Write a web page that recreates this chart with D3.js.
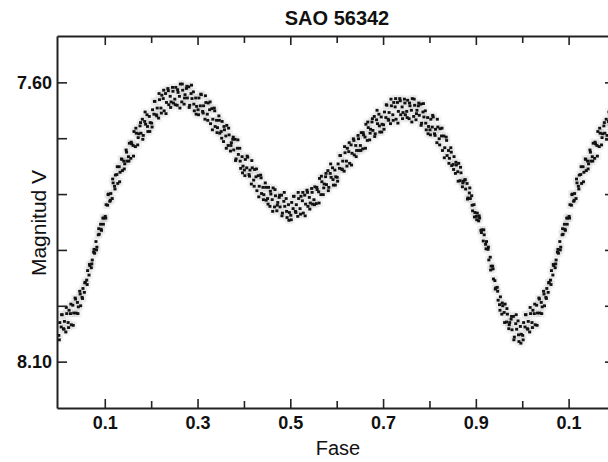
<!DOCTYPE html>
<html>
<head>
<meta charset="utf-8">
<script src="https://cdn.jsdelivr.net/npm/d3@7"></script>
<style>
  body { margin: 0; background: #fff; }
  text { font-family: "Liberation Sans", Arial, sans-serif; fill: #111; }
</style>
</head>
<body>
<svg id="chart" width="608" height="462"></svg>
<script>
var egress = [
  [.001,8.053],[.003,8.030],[.006,8.038],[.008,8.016],[.011,8.041],[.013,8.028],[.016,8.047],[.018,8.014],[.021,8.030],[.023,8.008],
  [.026,8.014],[.028,8.034],[.031,7.999],[.033,8.013],[.036,7.986],[.038,8.013],[.041,7.994],[.043,8.002],[.046,7.974],[.048,8.000],
  [.051,7.985],[.053,7.969],[.056,7.976],[.058,7.958],[.061,7.954],[.063,7.937],[.066,7.945],[.068,7.928],[.071,7.932],[.073,7.918],
  [.076,7.904],[.078,7.906],[.081,7.885],[.083,7.895],[.086,7.873],[.088,7.872],[.091,7.854],[.093,7.865],[.096,7.843],[.098,7.843],
  [.101,7.840],[.103,7.819],[.106,7.820],[.108,7.800],[.111,7.813],[.113,7.799],[.116,7.808],[.118,7.780],[.121,7.786],[.123,7.766],
  [.126,7.765],[.128,7.781],[.131,7.751],[.133,7.761],[.136,7.737],[.138,7.758],[.141,7.741],[.143,7.746],[.146,7.721],[.148,7.741],
  [.151,7.733],[.153,7.709],[.156,7.736],[.158,7.710],[.161,7.713],[.163,7.688],[.166,7.715],[.168,7.691],[.171,7.712],[.173,7.692],
  [.176,7.678],[.178,7.691],[.181,7.666],[.183,7.695],[.186,7.670],[.188,7.675],[.191,7.658],[.193,7.688],[.196,7.661],[.198,7.672]
];
var firstMax = [
  [.201,7.673],[.203,7.649],[.206,7.657],[.208,7.634],[.211,7.658],[.213,7.646],[.216,7.664],[.218,7.631],[.221,7.646],[.223,7.623],
  [.226,7.629],[.228,7.651],[.231,7.620],[.233,7.636],[.236,7.611],[.238,7.640],[.241,7.625],[.243,7.635],[.246,7.609],[.248,7.637],
  [.251,7.630],[.253,7.609],[.256,7.641],[.258,7.618],[.261,7.625],[.263,7.603],[.266,7.635],[.268,7.614],[.271,7.639],[.273,7.622],
  [.276,7.611],[.278,7.628],[.281,7.608],[.283,7.641],[.286,7.620],[.288,7.629],[.291,7.617],[.293,7.651],[.296,7.628],[.298,7.643],
  [.301,7.649],[.303,7.628],[.306,7.642],[.308,7.622],[.311,7.652],[.313,7.642],[.316,7.666],[.318,7.636],[.321,7.657],[.323,7.637],
  [.326,7.649],[.328,7.674],[.331,7.647],[.333,7.666],[.336,7.646],[.338,7.679],[.341,7.668],[.343,7.681],[.346,7.660],[.348,7.691],
  [.351,7.688],[.353,7.670],[.356,7.706],[.358,7.685],[.361,7.696],[.363,7.677],[.366,7.713],[.368,7.694],[.371,7.723],[.373,7.708],
  [.376,7.702],[.378,7.721],[.381,7.702],[.383,7.737],[.386,7.718],[.388,7.729],[.391,7.718],[.393,7.754],[.396,7.733],[.398,7.750]
];
var secondaryMin = [
  [.401,7.757],[.403,7.738],[.406,7.753],[.408,7.734],[.411,7.765],[.413,7.757],[.416,7.782],[.418,7.753],[.421,7.775],[.423,7.756],
  [.426,7.769],[.428,7.794],[.431,7.767],[.433,7.786],[.436,7.766],[.438,7.799],[.441,7.788],[.443,7.801],[.446,7.780],[.448,7.811],
  [.451,7.808],[.453,7.788],[.456,7.822],[.458,7.800],[.461,7.810],[.463,7.789],[.466,7.823],[.468,7.803],[.471,7.830],[.473,7.815],
  [.476,7.806],[.478,7.823],[.481,7.802],[.483,7.834],[.486,7.813],[.488,7.822],[.491,7.808],[.493,7.842],[.496,7.819],[.498,7.833],
  [.501,7.838],[.503,7.815],[.506,7.826],[.508,7.804],[.511,7.831],[.513,7.819],[.516,7.840],[.518,7.808],[.521,7.826],[.523,7.804],
  [.526,7.812],[.528,7.834],[.531,7.802],[.533,7.818],[.536,7.793],[.538,7.822],[.541,7.806],[.543,7.816],[.546,7.790],[.548,7.818],
  [.551,7.810],[.553,7.787],[.556,7.817],[.558,7.792],[.561,7.796],[.563,7.772],[.566,7.801],[.568,7.778],[.571,7.801],[.573,7.782],
  [.576,7.769],[.578,7.783],[.581,7.758],[.583,7.788],[.586,7.763],[.588,7.770],[.591,7.753],[.593,7.784],[.596,7.757],[.598,7.769]
];
var secondMax = [
  [.601,7.770],[.603,7.746],[.606,7.754],[.608,7.731],[.611,7.755],[.613,7.741],[.616,7.759],[.618,7.726],[.621,7.741],[.623,7.718],
  [.626,7.724],[.628,7.745],[.631,7.712],[.633,7.727],[.636,7.701],[.638,7.730],[.641,7.713],[.643,7.722],[.646,7.695],[.648,7.722],
  [.651,7.713],[.653,7.690],[.656,7.719],[.658,7.694],[.661,7.698],[.663,7.675],[.666,7.704],[.668,7.681],[.671,7.703],[.673,7.684],
  [.676,7.671],[.678,7.686],[.681,7.661],[.683,7.692],[.686,7.667],[.688,7.674],[.691,7.657],[.693,7.689],[.696,7.662],[.698,7.675],
  [.701,7.676],[.703,7.653],[.706,7.663],[.708,7.641],[.711,7.666],[.713,7.654],[.716,7.674],[.718,7.642],[.721,7.658],[.723,7.636],
  [.726,7.644],[.728,7.666],[.731,7.636],[.733,7.652],[.736,7.629],[.738,7.658],[.741,7.644],[.743,7.654],[.746,7.630],[.748,7.658],
  [.751,7.652],[.753,7.632],[.756,7.665],[.758,7.642],[.761,7.650],[.763,7.629],[.766,7.661],[.768,7.641],[.771,7.667],[.773,7.650],
  [.776,7.642],[.778,7.659],[.781,7.639],[.783,7.673],[.786,7.653],[.788,7.662],[.791,7.651],[.793,7.685],[.796,7.663],[.798,7.679]
];
var ingress = [
  [.801,7.685],[.803,7.666],[.806,7.680],[.808,7.662],[.811,7.692],[.813,7.684],[.816,7.708],[.818,7.680],[.821,7.701],[.823,7.683],
  [.826,7.696],[.828,7.722],[.831,7.696],[.833,7.717],[.836,7.698],[.838,7.731],[.841,7.722],[.843,7.736],[.846,7.717],[.848,7.749],
  [.851,7.747],[.853,7.733],[.856,7.763],[.858,7.748],[.861,7.760],[.863,7.745],[.866,7.776],[.868,7.762],[.871,7.787],[.873,7.777],
  [.876,7.775],[.878,7.791],[.881,7.781],[.883,7.807],[.886,7.798],[.888,7.808],[.891,7.803],[.893,7.830],[.896,7.819],[.898,7.833],
  [.901,7.840],[.903,7.834],[.906,7.848],[.908,7.843],[.911,7.865],[.913,7.864],[.916,7.884],[.918,7.873],[.921,7.890],[.923,7.885],
  [.926,7.899],[.928,7.918],[.931,7.913],[.933,7.929],[.936,7.929],[.938,7.952],[.941,7.955],[.943,7.968],[.946,7.967],[.948,7.990],
  [.951,7.998],[.953,7.984],[.956,8.015],[.958,8.000],[.961,8.012],[.963,7.997],[.966,8.029],[.968,8.015],[.971,8.041],[.973,8.030],
  [.976,8.024],[.978,8.043],[.981,8.019],[.983,8.056],[.986,8.032],[.988,8.042],[.991,8.027],[.993,8.064],[.996,8.037],[.998,8.051]
];
// second run of observations, same star
var secondRun = [
  [.002,8.061],[.007,8.016],[.012,8.042],[.017,8.003],[.022,8.039],
  [.027,7.997],[.032,8.035],[.037,7.988],[.042,8.014],[.047,7.979],
  [.052,7.987],[.057,7.959],[.062,7.962],[.067,7.926],[.072,7.925],
  [.077,7.899],[.082,7.900],[.087,7.862],[.092,7.863],[.097,7.854],
  [.102,7.843],[.107,7.801],[.112,7.811],[.117,7.773],[.122,7.791],
  [.127,7.751],[.132,7.778],[.137,7.738],[.142,7.755],[.147,7.725],
  [.152,7.741],[.157,7.707],[.162,7.732],[.167,7.682],[.172,7.699],
  [.177,7.672],[.182,7.702],[.187,7.653],[.192,7.679],[.197,7.688],
  [.202,7.680],[.207,7.634],[.212,7.660],[.217,7.620],[.222,7.655],
  [.227,7.614],[.232,7.656],[.237,7.615],[.242,7.645],[.247,7.616],
  [.252,7.640],[.257,7.613],[.262,7.646],[.267,7.603],[.272,7.628],
  [.277,7.607],[.282,7.645],[.287,7.605],[.292,7.639],[.297,7.657],
  [.302,7.658],[.307,7.621],[.312,7.655],[.317,7.624],[.322,7.668],
  [.327,7.635],[.332,7.685],[.337,7.651],[.342,7.690],[.347,7.668],
  [.352,7.700],[.357,7.679],[.362,7.718],[.367,7.682],[.372,7.713],
  [.377,7.698],[.382,7.740],[.387,7.703],[.392,7.741],[.397,7.762],
  [.402,7.767],[.407,7.732],[.412,7.768],[.417,7.740],[.422,7.786],
  [.427,7.755],[.432,7.805],[.437,7.771],[.442,7.810],[.447,7.788],
  [.452,7.818],[.457,7.795],[.462,7.831],[.467,7.792],[.472,7.820],
  [.477,7.802],[.482,7.839],[.487,7.797],[.492,7.831],[.497,7.847],
  [.502,7.846],[.507,7.804],[.512,7.833],[.517,7.797],[.522,7.836],
  [.527,7.797],[.532,7.839],[.537,7.797],[.542,7.827],[.547,7.797],
  [.552,7.819],[.557,7.788],[.562,7.816],[.567,7.768],[.572,7.789],
  [.577,7.763],[.582,7.794],[.587,7.746],[.592,7.774],[.597,7.784],
  [.602,7.777],[.607,7.731],[.612,7.756],[.617,7.715],[.622,7.750],
  [.627,7.708],[.632,7.748],[.637,7.704],[.642,7.733],[.647,7.701],
  [.652,7.722],[.657,7.690],[.662,7.718],[.667,7.671],[.672,7.691],
  [.677,7.665],[.682,7.697],[.687,7.650],[.692,7.678],[.697,7.689],
  [.702,7.684],[.707,7.640],[.712,7.668],[.717,7.630],[.722,7.668],
  [.727,7.629],[.732,7.673],[.737,7.633],[.742,7.665],[.747,7.637],
  [.752,7.663],[.757,7.637],[.762,7.671],[.767,7.630],[.772,7.656],
  [.777,7.637],[.782,7.677],[.787,7.638],[.792,7.673],[.797,7.692],
  [.802,7.694],[.807,7.659],[.812,7.695],[.817,7.666],[.822,7.712],
  [.827,7.682],[.832,7.735],[.837,7.704],[.842,7.745],[.847,7.725],
  [.852,7.756],[.857,7.743],[.862,7.777],[.867,7.752],[.872,7.780],
  [.877,7.774],[.882,7.809],[.887,7.789],[.892,7.820],[.897,7.841],
  [.902,7.846],[.907,7.839],[.912,7.869],[.917,7.864],[.922,7.898],
  [.927,7.895],[.932,7.936],[.937,7.934],[.942,7.970],[.947,7.974],
  [.952,8.008],[.957,7.995],[.962,8.030],[.967,8.005],[.972,8.034],
  [.977,8.019],[.982,8.061],[.987,8.016],[.992,8.052],[.997,8.067]
];

var xTicks = [0.1, 0.2, 0.3, 0.4, 0.5, 0.6, 0.7, 0.8, 0.9, 1.0, 1.1];
var xTickLabels = ["0.1", "", "0.3", "", "0.5", "", "0.7", "", "0.9", "", "0.1"];
var yTicks = [7.6, 7.7, 7.8, 7.9, 8.0, 8.1];
var yTickLabels = ["7.60", "", "", "", "", "8.10"];

var svg = d3.select("#chart");
svg.append("rect").attr("width", 608).attr("height", 462).attr("fill", "#fff");

var plotL = 57, plotR = 615, plotT = 36, plotB = 408;
var x = d3.scaleLinear().domain([-0.003, 1.2]).range([plotL, plotR]);
var y = d3.scaleLinear().domain([7.517, 8.183]).range([plotT, plotB]);

// phase-folded light curve, first part repeated after phase 1
var obs = [].concat(egress, firstMax, secondaryMin, secondMax, ingress, secondRun);
var points = obs.concat(obs.filter(d => d[0] < 0.2).map(d => [d[0] + 1, d[1]]));

svg.append("clipPath").attr("id", "plot")
  .append("rect").attr("x", plotL).attr("y", plotT).attr("width", plotR - plotL).attr("height", plotB - plotT);

var dots = svg.append("g").attr("clip-path", "url(#plot)");

// soft grey halo like the scanned original
dots.append("g")
  .selectAll("rect")
  .data(points)
  .enter()
  .append("rect")
  .attr("x", d => x(d[0]) - 4)
  .attr("y", d => y(d[1]) - 4)
  .attr("width", 8)
  .attr("height", 8)
  .attr("fill", "#000")
  .attr("opacity", 0.04);

dots.append("g")
  .selectAll("rect")
  .data(points)
  .enter()
  .append("rect")
  .attr("x", d => x(d[0]) - 1.5)
  .attr("y", d => y(d[1]) - 1.4)
  .attr("width", 3)
  .attr("height", 2.8)
  .attr("fill", "#111");

function styleAxis(g) {
  g.select(".domain").attr("stroke", "#222").attr("stroke-width", 2);
  g.selectAll(".tick line").attr("stroke", "#222").attr("stroke-width", 1.6);
  g.selectAll(".tick text")
    .attr("font-family", "'Liberation Sans', Arial, sans-serif")
    .attr("font-size", 18)
    .attr("font-weight", "bold")
    .attr("fill", "#111");
}

var gx = svg.append("g")
  .attr("transform", "translate(0," + plotB + ")")
  .call(d3.axisBottom(x).tickValues(xTicks).tickSize(-9).tickSizeOuter(0).tickPadding(8)
    .tickFormat((d, i) => xTickLabels[i]));
gx.selectAll(".tick line").attr("y2", (d, i) => xTickLabels[i] ? -9 : -7);
styleAxis(gx);

var gxTop = svg.append("g")
  .attr("transform", "translate(0," + plotT + ")")
  .call(d3.axisTop(x).tickValues(xTicks).tickSize(-9).tickSizeOuter(0).tickFormat(""));
gxTop.selectAll(".tick line").attr("y2", (d, i) => xTickLabels[i] ? 9 : 7);
styleAxis(gxTop);

var gy = svg.append("g")
  .attr("transform", "translate(" + plotL + ",0)")
  .call(d3.axisLeft(y).tickValues(yTicks).tickSize(-10).tickSizeOuter(0).tickPadding(5)
    .tickFormat((d, i) => yTickLabels[i]));
styleAxis(gy);

var gyRight = svg.append("g")
  .attr("transform", "translate(" + plotR + ",0)")
  .call(d3.axisRight(y).tickValues(yTicks).tickSize(-10).tickSizeOuter(0).tickFormat(""));
styleAxis(gyRight);

svg.append("text")
  .attr("x", 337).attr("y", 25)
  .attr("text-anchor", "middle")
  .attr("font-size", 20).attr("font-weight", "bold")
  .text("SAO 56342");

svg.append("text")
  .attr("x", 338).attr("y", 455)
  .attr("text-anchor", "middle")
  .attr("font-size", 20)
  .text("Fase");

svg.append("text")
  .attr("transform", "translate(46,223) rotate(-90)")
  .attr("text-anchor", "middle")
  .attr("font-size", 21)
  .text("Magnitud V");
</script>
</body>
</html>
